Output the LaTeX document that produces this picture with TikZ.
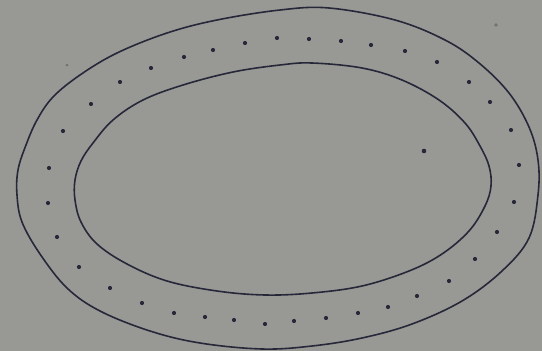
\documentclass[tikz,border=0pt]{standalone}
\definecolor{paper}{RGB}{152,153,148}
\definecolor{ink}{RGB}{38,40,58}
\begin{document}
\begin{tikzpicture}[x=1pt,y=-1pt,
  outline/.style={draw=ink,line width=1.6pt,line cap=round},
  seed/.style={fill=ink},
  smudge/.style={fill=ink,opacity=0.35}]
\fill[paper] (0,0) rectangle (542,351);
\useasboundingbox (0,0) rectangle (542,351);
% outer oval
\draw[outline] plot[smooth cycle,tension=0.6] coordinates {
 (17,195) (18,170) (26,145) (37,120) (53,97) (80,75) (117,53) (167,33) (217,20)
 (280,10) (329,8) (395,20) (445,40) (479,63) (509,93) (529,127) (538,160)
 (538,195) (529,238) (502,271) (462,301) (412,324) (362,338) (312,346)
 (262,349) (200,343) (150,331) (100,311) (67,288) (40,254) (22,222)};
% inner oval
\draw[outline] plot[smooth cycle,tension=0.6] coordinates {
 (75,200) (75,180) (81,161) (93,143) (113,120) (143,100) (183,85) (233,72) (280,65)
 (312,63) (362,68) (402,80) (439,100) (465,123) (480,146) (489,166) (491,186)
 (485,206) (469,231) (442,254) (409,271) (362,286) (312,293) (265,295)
 (217,291) (167,281) (127,264) (97,244) (81,222)};
% dots in the ring
\foreach \p in {(151,68),(120,82),(91,104),(63,131),(49,168),(184,57),(213,50),
  (245,43),(277,38),(309,39),(341,41),(371,45),(405,51),(437,62),(469,82),
  (490,102),(511,130),(519,165),(514,202),(497,232),(475,259),(449,281),
  (417,296),(388,307),(358,313),(326,318),(294,321),(265,324),(234,320),
  (205,317),(174,313),(142,303),(110,288),(79,267),(57,237),(48,203)}
  \fill[seed] \p circle (2.1);
% dot inside
\fill[seed] (424,151) circle (2.3);
% faint marks
\fill[smudge] (67,65) circle (1.5);
\fill[smudge] (496,25) circle (1.8);
\end{tikzpicture}
\end{document}
